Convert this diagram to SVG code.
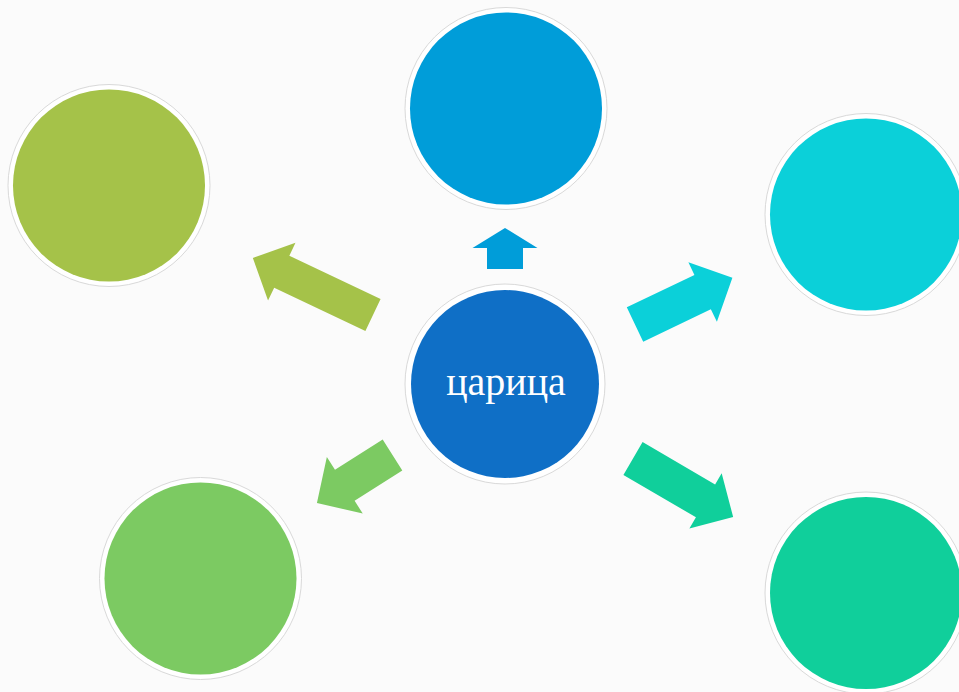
<svg xmlns="http://www.w3.org/2000/svg" width="959" height="692" viewBox="0 0 959 692">
  <defs>
    <style>
      .ring { fill: #ffffff; stroke: #d9d9d9; stroke-width: 1; }
      .label { font-family: "Liberation Serif", "DejaVu Serif", serif; font-size: 40px; fill: #ffffff; text-anchor: middle; }
    </style>
  </defs>
  <rect x="0" y="0" width="959" height="692" fill="#fbfbfb"/>

  <g id="connectors">
    <path d="M0,-17.7 L101,-17.7 L101,-32 L133,0 L101,32 L101,17.7 L0,17.7 Z" fill="#a5c249" transform="translate(373,315) rotate(205.4)"/>
    <path d="M0,-18 L21,-18 L21,-32.5 L41,0 L21,32.5 L21,18 L0,18 Z" fill="#009dd9" transform="translate(505,269) rotate(-90)"/>
    <path d="M0,-19 L75,-19 L75,-33 L108,0 L75,33 L75,19 L0,19 Z" fill="#0bd0d9" transform="translate(635,324.5) rotate(-25.6)"/>
    <path d="M0,-19 L84,-19 L84,-32 L116,0 L84,32 L84,19 L0,19 Z" fill="#10cf9b" transform="translate(633,458.5) rotate(30.3)"/>
    <path d="M0,-18.3 L56.5,-18.3 L56.5,-33.5 L89.5,0 L56.5,33.5 L56.5,18.3 L0,18.3 Z" fill="#7cca62" transform="translate(392.5,455) rotate(147.6)"/>
  </g>

  <g id="node-center">
    <circle class="ring" cx="505" cy="384" r="100"/>
    <circle cx="505" cy="384" r="94" fill="#0f6fc6"/>
    <text class="label" x="506" y="395">царица</text>
  </g>
  <g id="node-top">
    <circle class="ring" cx="506" cy="108.5" r="101"/>
    <circle cx="506" cy="108.5" r="96" fill="#009dd9"/>
  </g>
  <g id="node-top-left">
    <circle class="ring" cx="109" cy="185.5" r="101"/>
    <circle cx="109" cy="185.5" r="96" fill="#a5c249"/>
  </g>
  <g id="node-top-right">
    <circle class="ring" cx="866" cy="214.5" r="101"/>
    <circle cx="866" cy="214.5" r="96" fill="#0bd0d9"/>
  </g>
  <g id="node-bottom-left">
    <circle class="ring" cx="200.5" cy="578.5" r="101"/>
    <circle cx="200.5" cy="578.5" r="96" fill="#7cca62"/>
  </g>
  <g id="node-bottom-right">
    <circle class="ring" cx="866" cy="593" r="101"/>
    <circle cx="866" cy="593" r="96" fill="#10cf9b"/>
  </g>
</svg>
